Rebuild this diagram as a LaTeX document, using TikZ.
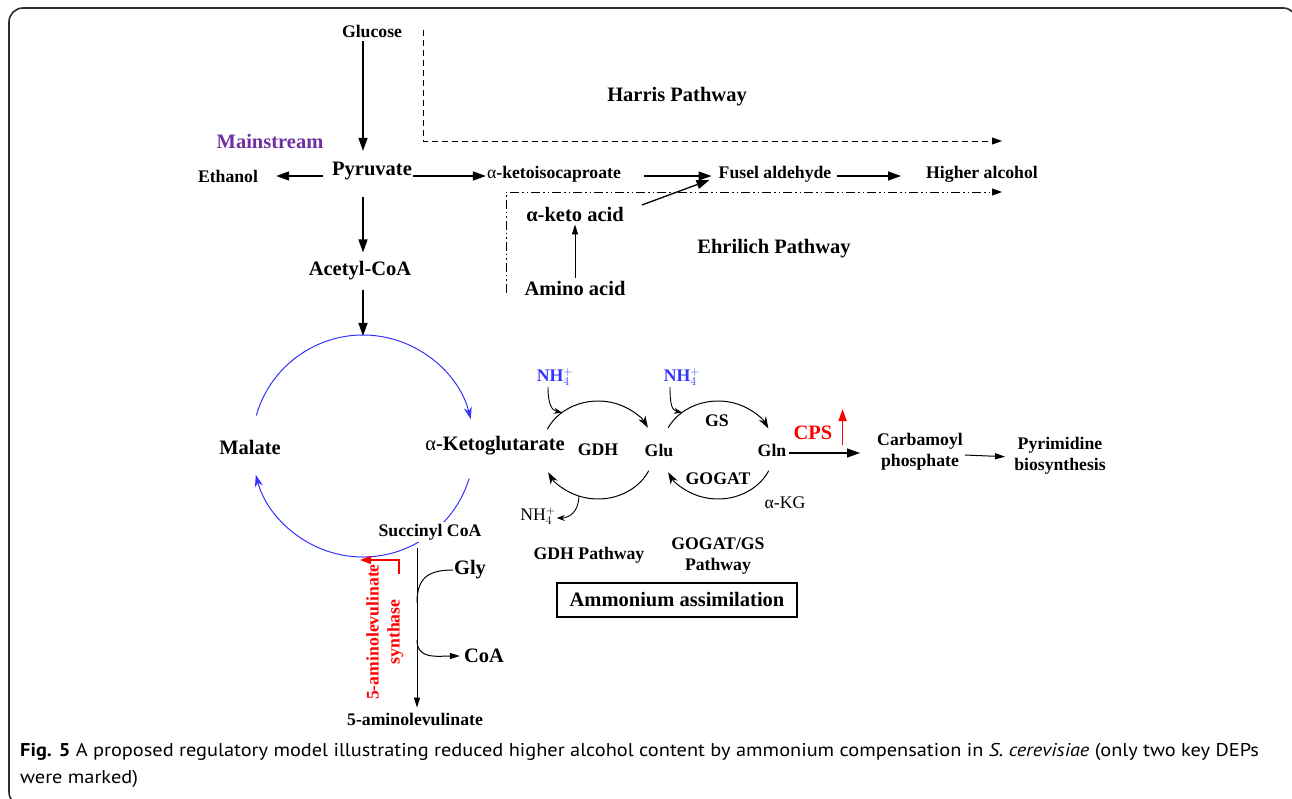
\documentclass[tikz,border=0pt]{standalone}
\usepackage{fontspec}
\setmainfont{Liberation Serif}
\newfontfamily\capfont[FakeStretch=1.1]{PT Sans}
\usetikzlibrary{arrows.meta}
\definecolor{tcablue}{RGB}{51,51,255}
\definecolor{mainpurple}{RGB}{112,48,160}
\definecolor{framegray}{RGB}{45,45,45}
\newcommand{\nhfour}{NH$_4^+$}

\begin{document}
\begin{tikzpicture}[x=1pt, y=-1pt,
  met/.style={font=\fontsize{17.7}{21}\selectfont\bfseries, inner sep=1pt},
  bigmet/.style={font=\fontsize{20.5}{23}\selectfont\bfseries, inner sep=1pt},
  plain/.style={font=\fontsize{17.7}{21}\selectfont, inner sep=1pt},
  flow/.style={-{Triangle[length=13pt,width=9pt]}, line width=1.3pt},
  thin/.style={-{Triangle[length=10pt,width=6pt]}, line width=1pt},
  loop/.style={-{Stealth[length=12pt,width=8pt]}, line width=1pt}]
\useasboundingbox (0,0) rectangle (1292,799);
\clip (0,0) rectangle (1292,799);
% frame
\draw[framegray, line width=1.6pt, rounded corners=14pt] (9,8) rectangle (1297,806);

% Mainstream
\node[met] (glucose) at (372,31) {Glucose};
\node[bigmet] (pyruvate) at (372,171) {Pyruvate};
\node[bigmet, text=mainpurple] (mainstream) at (270,141) {Mainstream};
\node[met] (ethanol) at (228,176) {Ethanol};
\node[bigmet] (acetyl) at (360,271) {Acetyl-CoA};
\draw[flow, shorten <=3pt, shorten >=10pt] ([xshift=-9pt]glucose.south) -- ([xshift=-9pt]pyruvate.north);
\draw[flow, shorten <=8pt, shorten >=17pt] ([yshift=-5pt]pyruvate.west) -- (ethanol.east);
\draw[flow, shorten <=16pt, shorten >=8pt] ([xshift=-9pt]pyruvate.south) -- ([xshift=3pt]acetyl.north);
\coordinate (tcatop) at (363,336);
\draw[flow, shorten <=8pt] ([xshift=3pt]acetyl.south) -- (tcatop);

% Harris / Ehrlich
\node[met] (kic) at (554,174) {\textmd{α}-ketoisocaproate};
\node[met] (fusel) at (775,174) {Fusel aldehyde};
\node[met] (higher) at (982,174) {Higher alcohol};
\node[bigmet] (harris) at (677,97) {Harris Pathway};
\node[bigmet] (ehrlich) at (774,249) {Ehrilich Pathway};
\node[bigmet] (ketoacid) at (575,214) {α-keto acid};
\node[bigmet] (amino) at (575,288) {Amino acid};
\draw[flow] ([yshift=-5pt]pyruvate.east) -- ([yshift=-2pt]kic.west);
\draw[flow, shorten <=22pt, shorten >=6pt] ([yshift=-2pt]kic.east) -- ([yshift=-2pt]fusel.west);
\draw[flow, shorten <=4pt, shorten >=24pt] ([yshift=-2pt]fusel.east) -- ([yshift=-2pt]higher.west);
\draw[flow] ([xshift=17pt,yshift=9pt]ketoacid.east) -- ([xshift=-8pt,yshift=-6pt]fusel.west);
\draw[thin, shorten <=2pt, shorten >=2pt] (amino.north) -- (ketoacid.south);
\coordinate (harrisstart) at (423,30);
\coordinate (harrisend) at (1002,141);
\coordinate (ehrlichstart) at (506,293);
\coordinate (ehrlichend) at (1002,192);
\draw[-{Triangle[length=10pt,width=7pt]}, line width=0.9pt, dash pattern=on 6pt off 4pt] (harrisstart) |- (harrisend);
\draw[-{Triangle[length=10pt,width=7pt]}, line width=0.9pt, dash pattern=on 9pt off 3pt on 1.5pt off 3pt on 1.5pt off 3pt] (ehrlichstart) |- (ehrlichend);

% TCA cycle
\coordinate (tca) at (363,446);
\draw[tcablue, loop] (tca) ++(-164:111) arc[start angle=-164, end angle=-14, radius=111];
\draw[tcablue, loop] (tca) ++(17:111) arc[start angle=17, end angle=165, radius=111];
\node[bigmet] (malate) at (250,447) {Malate};
\node[bigmet] (akgbig) at (495,446) {\textmd{α}-Ketoglutarate};
\node[met, fill=white, inner sep=2pt] (succ) at (430,532) {Succinyl CoA};

% 5-aminolevulinate branch
\node[met] (ala) at (415,719) {5-aminolevulinate};
\node[bigmet] (gly) at (470,570) {Gly};
\node[bigmet] (coa) at (484,656) {CoA};
\node[met, text=red, rotate=90, align=center] (alas) at (385,632) {5-aminolevulinate\\synthase};
\draw[thin, shorten <=6pt, shorten >=4pt] ([xshift=-13pt]succ.south) -- ([xshift=2pt]ala.north);
\coordinate (glyin) at (417,603);
\coordinate (coaout) at (417,640);
\draw[line width=1pt] (gly.west) .. controls +(-26,0) and +(0,-24) .. (glyin);
\draw[thin] (coaout) .. controls +(0,20) and +(-22,0) .. ([xshift=-3pt]coa.west);
\draw[red, -{Triangle[length=11pt,width=8pt]}, line width=1.6pt] (399,560) -- (360,560);
\draw[red, line width=1.6pt] (399,559) -- (399,574);

% Ammonium assimilation
\coordinate (gdhc) at (598,450);
\coordinate (gsc) at (718,450);
\node[met] (gdh) at (598,450) {GDH};
\node[met] (glu) at (659,450) {Glu};
\node[met] (gln) at (772,450) {Gln};
\node[met] (gs) at (717,421) {GS};
\node[met] (gogat) at (718,479) {GOGAT};
\node[plain] (akg) at (785,503) {α-KG};
\node[met, text=tcablue] (nhA) at (555,377) {\nhfour};
\node[met, text=tcablue] (nhB) at (682,377) {\nhfour};
\node[plain] (nhC) at (538,516) {\nhfour};
\draw[loop] (gdhc) ++(-155:56 and 49) arc[start angle=-155, end angle=-27, x radius=56, y radius=49];
\draw[loop] (gdhc) ++(25:56 and 49) arc[start angle=25, end angle=153, x radius=56, y radius=49];
\draw[loop] (gsc) ++(-153:56 and 49) arc[start angle=-153, end angle=-26, x radius=56, y radius=49];
\draw[loop] (gsc) ++(25:56 and 49) arc[start angle=25, end angle=153, x radius=56, y radius=49];
\path (gdhc) ++(-130:56 and 49) coordinate (gdhin);
\path (gdhc) ++(110:56 and 49) coordinate (gdhout);
\path (gsc) ++(-130:56 and 49) coordinate (gsin);
\draw[-{Stealth[length=8pt,width=6pt]}, line width=0.9pt] ([xshift=-7pt]nhA.south) .. controls +(0,18) and +(-10,-2) .. (gdhin);
\draw[-{Stealth[length=8pt,width=6pt]}, line width=0.9pt] ([xshift=-12pt]nhB.south) .. controls +(0,18) and +(-10,-2) .. (gsin);
\draw[-{Stealth[length=8pt,width=6pt]}, line width=0.9pt] (gdhout) .. controls +(0,16) and +(12,0) .. ([yshift=-2pt]nhC.east);

% CPS and pyrimidine
\node[bigmet, text=red] (cps) at (813,433) {CPS};
\node[met, align=center] (carb) at (920,452) {Carbamoyl\\phosphate};
\node[met, align=center] (pyrim) at (1060,456) {Pyrimidine\\biosynthesis};
\draw[red, -{Triangle[length=12pt,width=8pt]}, line width=1.6pt] ([xshift=9pt,yshift=-4pt]cps.south east) -- ++(0,-36);
\draw[flow, shorten <=2pt, shorten >=16pt] ([yshift=-3pt]gln.east) -- ([yshift=-1pt]carb.west);
\draw[thin, shorten <=1pt, shorten >=8pt] ([yshift=-3pt]carb.east) -- ([yshift=-1pt]pyrim.west);

% Pathway labels
\node[met] (gdhpath) at (589,555) {GDH Pathway};
\node[met, align=center] (gspath) at (718,556) {GOGAT/GS\\Pathway};
\node[bigmet, draw, line width=1.1pt, minimum width=240, minimum height=34] (assim) at (677,600) {Ammonium assimilation};

% Caption
\node[anchor=north west, align=left, inner sep=0pt, font=\capfont\fontsize{18.5}{27}\selectfont] (caption) at (20,743)
  {\textbf{Fig. 5} A proposed regulatory model illustrating reduced higher alcohol content by ammonium compensation in \textit{S. cerevisiae} (only two key DEPs\\were marked)};
\end{tikzpicture}
\end{document}
